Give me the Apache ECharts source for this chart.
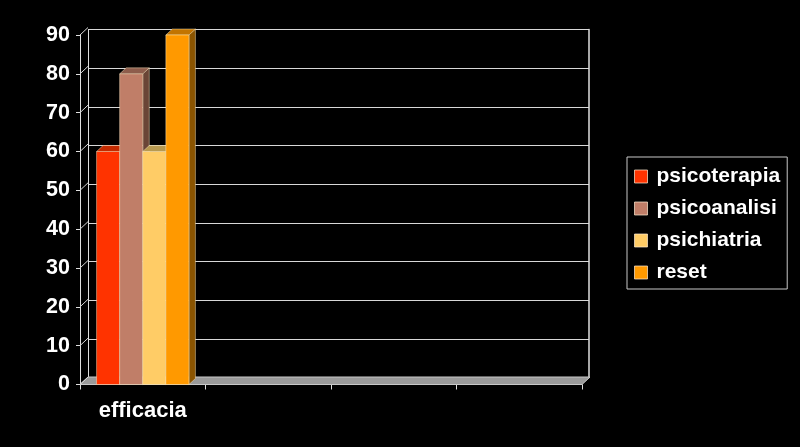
<!DOCTYPE html>
<html>
<head>
<meta charset="utf-8">
<style>html,body{margin:0;padding:0;background:#000;}#c{width:800px;height:447px;}</style>
<script src="https://cdn.jsdelivr.net/npm/echarts@6/dist/echarts.min.js"></script>
</head>
<body>
<div id="c"></div>
<script>
// ---- data ----
const categories = ['efficacia', '', '', ''];
const seriesNames = ['psicoterapia', 'psicoanalisi', 'psichiatria', 'reset'];
const psicoterapia = [60];
const psicoanalisi = [80];
const psichiatria = [60];
const reset = [90];
const yTicks = [0, 10, 20, 30, 40, 50, 60, 70, 80, 90];

// ---- styling ----
const FONT = "'Liberation Sans', Arial, sans-serif";
const frontColors = ['#FF3300', '#C07E68', '#FFCC66', '#FF9900'];
const topColors = ['#C42A00', '#8E5D4C', '#B89A50', '#C27400'];
const sideColors = ['#8A1C00', '#6A4536', '#8C7035', '#8A5400'];
const DX = 6.5, DY = 6;     // bar depth
const WX = 8, WY = 7.5;     // wall/floor depth
const valueSets = [psicoterapia, psicoanalisi, psichiatria, reset];

function barSeries(i) {
  return {
    name: seriesNames[i],
    type: 'custom',
    xAxisIndex: 0, yAxisIndex: 0,
    itemStyle: { color: frontColors[i] },
    z: 5,
    data: valueSets[i].map((v, k) => [k, v]),
    renderItem: function (params, api) {
      const cat = api.value(0), v = api.value(1);
      const base = api.coord([cat, 0]);
      const top = api.coord([cat, v]);
      const band = api.size([1, 0])[0];
      const bw = band * 0.184;
      const x0 = base[0] - 2 * bw + i * bw;
      const yT = top[1], yB = base[1];
      const edge = { stroke: 'rgba(255,240,200,0.55)', lineWidth: 0.8 };
      return {
        type: 'group',
        children: [
          { type: 'polygon', shape: { points: [[x0 + bw, yT], [x0 + bw + DX, yT - DY], [x0 + bw + DX, yB - DY], [x0 + bw, yB]] },
            style: Object.assign({ fill: sideColors[i] }, edge) },
          { type: 'polygon', shape: { points: [[x0, yT], [x0 + bw, yT], [x0 + bw + DX, yT - DY], [x0 + DX, yT - DY]] },
            style: Object.assign({ fill: topColors[i] }, edge) },
          { type: 'rect', shape: { x: x0, y: yT, width: bw, height: yB - yT },
            style: Object.assign({ fill: frontColors[i] }, edge) }
        ]
      };
    }
  };
}

const chart = echarts.init(document.getElementById('c'), null, { renderer: 'canvas' });
chart.setOption({
  backgroundColor: '#000',
  animation: false,
  textStyle: { fontFamily: FONT },
  grid: [
    { left: 80, right: 218, top: 35, bottom: 62.5 },
    { left: 88, right: 211, top: 29.5, bottom: 69.5 }
  ],
  xAxis: [
    { type: 'category', gridIndex: 0, data: categories, boundaryGap: true,
      axisLine: { show: true, lineStyle: { color: '#cfcfcf', width: 1 } },
      axisTick: { show: true, length: 5, lineStyle: { color: '#e0e0e0' } },
      axisLabel: { color: '#fff', fontWeight: 'bold', fontSize: 22, fontFamily: FONT, margin: 15 },
      splitLine: { show: false } },
    { type: 'category', gridIndex: 1, data: categories, show: false }
  ],
  yAxis: [
    { type: 'value', gridIndex: 0, min: 0, max: 90, interval: 10,
      axisLine: { show: true, lineStyle: { color: '#e0e0e0', width: 1 } },
      axisTick: { show: true, length: 4, lineStyle: { color: '#e0e0e0' } },
      axisLabel: { color: '#fff', fontWeight: 'bold', fontSize: 21.5, fontFamily: FONT, margin: 10 },
      splitLine: { show: false } },
    { type: 'value', gridIndex: 1, min: 0, max: 90, interval: 10,
      axisLine: { show: true, lineStyle: { color: '#e0e0e0', width: 1 } },
      axisTick: { show: false }, axisLabel: { show: false },
      splitLine: { show: true, lineStyle: { color: '#d8d8d8', width: 1 } } },
    { type: 'value', gridIndex: 1, min: 0, max: 90, interval: 10, position: 'right',
      axisLine: { show: true, lineStyle: { color: '#e0e0e0', width: 1.5 } },
      axisTick: { show: false }, axisLabel: { show: false }, splitLine: { show: false } }
  ],
  legend: {
    orient: 'vertical',
    left: 627, top: 157,
    padding: [9, 7, 6, 7],
    borderColor: '#c8c8c8', borderWidth: 1,
    backgroundColor: '#000',
    itemWidth: 13, itemHeight: 13, itemGap: 11,
    icon: 'rect',
    itemStyle: { borderColor: 'rgba(255,235,210,0.7)', borderWidth: 1 },
    textStyle: { color: '#fff', fontWeight: 'bold', fontSize: 21, fontFamily: FONT, padding: [0, 0, 0, 4] },
    data: seriesNames
  },
  series: [
    {
      type: 'custom', name: '__floor', xAxisIndex: 0, yAxisIndex: 0, z: 1,
      silent: true, legendHoverLink: false,
      data: yTicks.map(v => [0, v]),
      renderItem: function (params, api) {
        const cs = params.coordSys;
        const v = api.value(1);
        const y = api.coord([0, v])[1];
        const children = [
          { type: 'line', shape: { x1: cs.x, y1: y, x2: cs.x + WX, y2: y - WY },
            style: { stroke: '#d8d8d8', lineWidth: 1 } }
        ];
        if (v === 0) {
          const yb = cs.y + cs.height;
          children.unshift({
            type: 'polygon',
            shape: { points: [[cs.x, yb], [cs.x + cs.width, yb], [cs.x + cs.width + WX, yb - WY], [cs.x + WX, yb - WY]] },
            style: { fill: '#9a9a9a', stroke: '#c8c8c8', lineWidth: 1 }
          });
        }
        return { type: 'group', children: children };
      }
    },
    barSeries(0), barSeries(1), barSeries(2), barSeries(3)
  ]
});
</script>
</body>
</html>
